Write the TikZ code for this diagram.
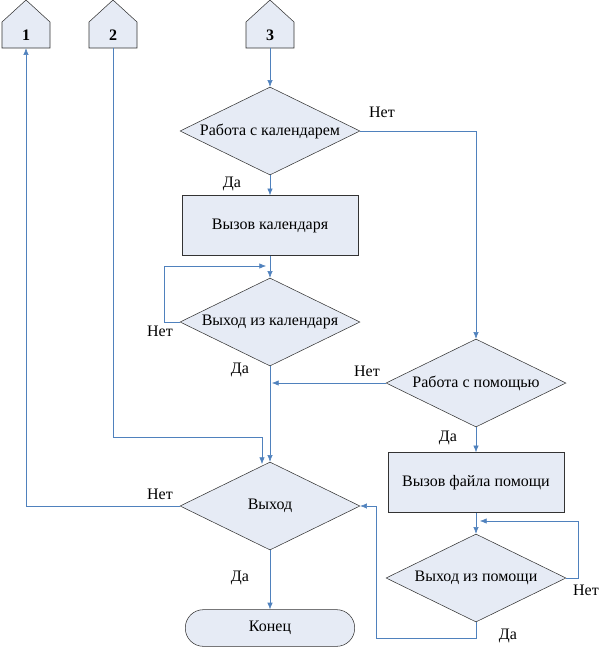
\documentclass[tikz,border=0pt]{standalone}
\usepackage{fontspec}
\setmainfont{Liberation Serif}
\usetikzlibrary{shapes.geometric,arrows.meta}
\definecolor{boxfill}{RGB}{230,235,245}
\definecolor{flow}{RGB}{79,129,189}
\begin{document}
\begin{tikzpicture}[x=0.75pt,y=-0.75pt,
    font=\fontsize{12}{14}\selectfont,
    blk/.style={draw=black!80, fill=boxfill, thin},
    cond/.style={blk, diamond, aspect=2, inner sep=0pt, minimum width=135pt, minimum height=66pt},
    proc/.style={blk, rectangle, minimum width=132pt, minimum height=45pt},
    offpage/.style={rectangle, minimum width=36pt, minimum height=19.5pt, inner sep=0pt,
        font=\fontsize{12}{14}\selectfont\bfseries},
    term/.style={blk, rectangle, rounded corners=13.5pt, minimum width=127pt, minimum height=27.5pt},
    flw/.style={draw=flow, -{Latex[length=5pt,width=4pt]}},
    lbl/.style={inner sep=0pt}]
    \useasboundingbox (0,0) rectangle (599,647);
    % off-page connectors
    \foreach \x/\n in {26/1,113/2,270/3} {
        \filldraw[blk] (\x-24,48) -- (\x-24,22) -- (\x,0) -- (\x+24,22) -- (\x+24,48) -- cycle;
        \node[offpage] (c\n) at (\x,35) {\n};
    }
    % calendar branch
    \node[cond] (kal) at (270,131) {Работа с календарем};
    \node[proc] (vyzkal) at (270,225.5) {Вызов календаря};
    \node[cond] (vyhkal) at (270,322) {Выход из календаря};
    % help branch
    \node[cond] (pom) at (476,383) {Работа с помощью};
    \node[proc] (vyzpom) at (476,482.5) {Вызов файла помощи};
    \node[cond] (vyhpom) at (476,578) {Выход из помощи};
    % exit
    \node[cond] (vyhod) at (270,506) {Выход};
    \node[term] (konec) at (270,628) {Конец};
    \coordinate (k1) at (266,266);
    \coordinate (k2) at (272,383);
    \coordinate (k3) at (480,521);
    \coordinate (k4) at (376,638);
    \coordinate (k5) at (262,437);
    \coordinate (k6) at (262,464);
    \draw[flw] (c3.south) -- (kal.north);
    \draw[flw] (kal.south) -- (vyzkal.north);
    \draw[flw] (vyzkal.south) -- (vyhkal.north);
    \draw[flw] (vyhkal.west) -- ++(-15,0) |- (k1);
    \draw[flw] (vyhkal.south) -- (vyhod.north);
    \draw[flw] (kal.east) -| (pom.north);
    \draw[flw] (pom.west) -- (k2);
    \draw[flw] (pom.south) -- (vyzpom.north);
    \draw[flw] (vyzpom.south) -- (vyhpom.north);
    \draw[flw] (vyhpom.east) -- ++(12,0) |- (k3);
    \draw[flw] (vyhpom.south) |- (k4) |- (vyhod.east);
    \draw[flw] (vyhod.west) -| (c1.south);
    \draw[flw] (c2.south) |- (k5) -- (k6);
    \draw[flw] (vyhod.south) -- (konec.north);
    % labels
    \node[lbl] at (382,112) {Нет};
    \node[lbl] at (232,184) {Да};
    \node[lbl] at (160,331) {Нет};
    \node[lbl] at (240,370) {Да};
    \node[lbl] at (367,371) {Нет};
    \node[lbl] at (448,438) {Да};
    \node[lbl] at (586,590) {Нет};
    \node[lbl] at (508,636) {Да};
    \node[lbl] at (160,494) {Нет};
    \node[lbl] at (240,578) {Да};
\end{tikzpicture}
\end{document}
